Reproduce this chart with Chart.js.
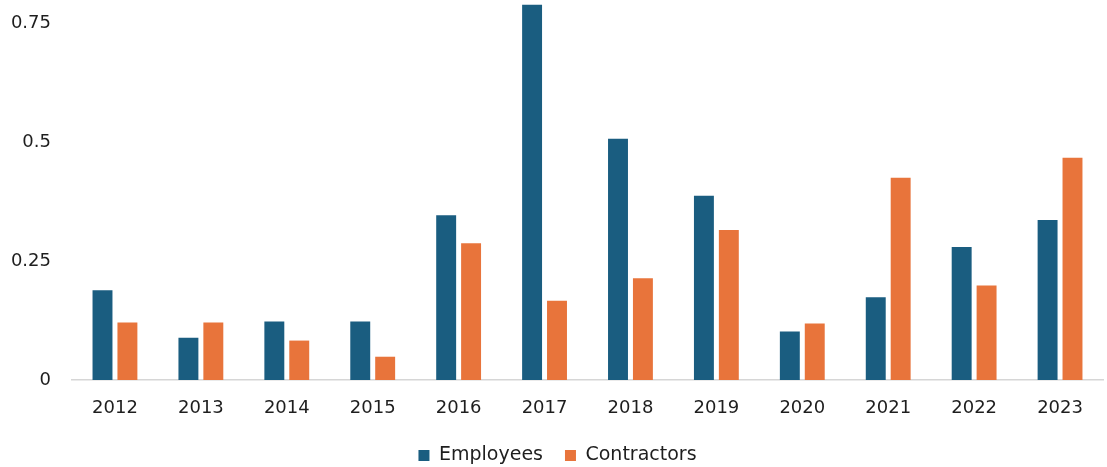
<!DOCTYPE html>
<html>
<head>
<meta charset="utf-8">
<script src="https://cdn.jsdelivr.net/npm/chart.js@4/dist/chart.umd.min.js"></script>
<style>
  html, body { margin: 0; padding: 0; background: #fff; }
  #wrap { width: 1107px; height: 467px; position: relative; }
</style>
</head>
<body>
<div id="wrap"><canvas id="barChart"></canvas></div>
<script>
// 数据
const years = ['2012', '2013', '2014', '2015', '2016', '2017', '2018', '2019', '2020', '2021', '2022', '2023'];
const employees = [0.189, 0.089, 0.123, 0.123, 0.347, 0.79, 0.508, 0.388, 0.102, 0.174, 0.28, 0.337];
const contractors = [0.121, 0.121, 0.083, 0.049, 0.288, 0.167, 0.214, 0.316, 0.119, 0.426, 0.199, 0.468];
const yTicks = [0, 0.25, 0.5, 0.75];

const COLORS = { BLUE: '#1a5d80', ORANGE: '#e8743b', TEXT: '#1e1e1e', AXIS: '#d6d6d6' };
const FONT = 'DejaVu Sans';

new Chart(document.getElementById('barChart'), {
    type: 'bar',
    data: {
        labels: years,
        datasets: [
            { label: 'Employees', data: employees, backgroundColor: COLORS.BLUE },
            { label: 'Contractors', data: contractors, backgroundColor: COLORS.ORANGE }
        ]
    },
    options: {
        responsive: true,
        maintainAspectRatio: false,
        animation: false,
        categoryPercentage: 0.58,
        barPercentage: 0.8,
        layout: { padding: { top: 0, right: 4, left: 12, bottom: -8 } },
        plugins: {
            tooltip: { enabled: false },
            legend: {
                position: 'bottom',
                labels: {
                    boxWidth: 11,
                    boxHeight: 11,
                    padding: 22,
                    color: COLORS.TEXT,
                    font: { family: FONT, size: 19 }
                }
            }
        },
        scales: {
            x: {
                grid: { display: false },
                border: { display: true, color: COLORS.AXIS, width: 1.5 },
                ticks: { color: COLORS.TEXT, padding: 10, font: { family: FONT, size: 18 } },
                afterFit: axis => { axis.height = 44; }
            },
            y: {
                min: 0,
                max: 0.8,
                grid: { display: false },
                border: { display: false },
                afterBuildTicks: axis => { axis.ticks = yTicks.map(v => ({ value: v })); },
                afterFit: axis => { axis.width = 60; axis.paddingTop = 0; axis.paddingBottom = 0; },
                ticks: {
                    color: COLORS.TEXT,
                    padding: 13,
                    font: { family: FONT, size: 18 },
                    callback: v => String(v)
                }
            }
        }
    }
});
</script>
</body>
</html>
